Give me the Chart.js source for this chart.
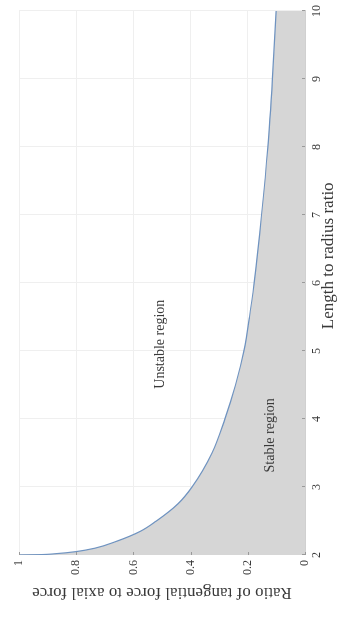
<!DOCTYPE html>
<html>
<head>
<meta charset="utf-8">
<script src="https://cdn.jsdelivr.net/npm/chart.js@4.4.1/dist/chart.umd.min.js"></script>
<style>
  html, body { margin: 0; padding: 0; background: #ffffff; overflow: hidden; }
  body { width: 342px; height: 617px; position: relative; }
  /* the figure is laid out landscape and turned a quarter turn counter-clockwise */
  #wrap {
    position: absolute; left: 0; top: 0;
    width: 617px; height: 342px;
    transform-origin: 0 0;
    transform: translateY(617px) rotate(-90deg);
  }
</style>
</head>
<body>
<div id="wrap"><canvas id="chart" width="617" height="342"></canvas></div>
<script>
// Stability boundary: force ratio at which a given length/radius ratio becomes unstable
const lengthRatio = [2, 2.005, 2.02, 2.05, 2.1, 2.2, 2.35, 2.5, 2.75, 3, 3.5, 4, 4.5, 5, 5.5, 6, 7, 8, 9, 10];
const forceRatio  = [1, 0.93, 0.87, 0.80, 0.735, 0.66, 0.575, 0.52, 0.445, 0.395, 0.325, 0.28, 0.243, 0.214, 0.194, 0.178, 0.152, 0.13, 0.114, 0.101];

const xTicks = [2, 3, 4, 5, 6, 7, 8, 9, 10];
const yTicks = [0, 0.2, 0.4, 0.6, 0.8, 1];
const yTickLabels = ['0', '0.2', '0.4', '0.6', '0.8', '1'];

const xTitle = 'Length to radius ratio';
const yTitle = 'Ratio of tangential force to axial force';

const regionNames = ['Unstable region', 'Stable region'];
const regionAt = [[5.1, 0.505], [3.76, 0.122]];

const FONT = '"Liberation Serif", "Times New Roman", serif';
const TEXT = '#3a3a3a';

const points = lengthRatio.map((x, i) => ({ x: x, y: forceRatio[i] }));

const labelsPlugin = {
  id: 'figureText',
  afterDatasetsDraw(chart) {
    const { ctx, chartArea, scales } = chart;
    ctx.save();
    ctx.fillStyle = TEXT;
    // small inward tick marks along the two axes
    ctx.strokeStyle = '#9a9a9a';
    ctx.lineWidth = 1;
    xTicks.forEach(v => {
      const px = Math.round(scales.x.getPixelForValue(v)) + 0.5;
      ctx.beginPath();
      ctx.moveTo(px, chartArea.bottom);
      ctx.lineTo(px, chartArea.bottom - 3);
      ctx.stroke();
    });
    yTicks.forEach(v => {
      const py = Math.round(scales.y.getPixelForValue(v)) + 0.5;
      ctx.beginPath();
      ctx.moveTo(chartArea.left, py);
      ctx.lineTo(chartArea.left + 3, py);
      ctx.stroke();
    });
    // region names
    ctx.font = '14px ' + FONT;
    ctx.textAlign = 'center';
    ctx.textBaseline = 'middle';
    regionNames.forEach((t, i) => {
      ctx.fillText(t, scales.x.getPixelForValue(regionAt[i][0]), scales.y.getPixelForValue(regionAt[i][1]));
    });
    // axis titles
    ctx.font = '17px ' + FONT;
    ctx.fillText(xTitle, scales.x.getPixelForValue(6.4), chartArea.bottom + 24);
    ctx.translate(chartArea.left - 37, (chartArea.top + chartArea.bottom) / 2);
    ctx.rotate(-Math.PI / 2);
    ctx.fillText(yTitle, 0, 0);
    ctx.restore();
  }
};

new Chart(document.getElementById('chart'), {
  type: 'line',
  data: {
    datasets: [{
      data: points,
      borderColor: '#6f93c0',
      borderWidth: 1.2,
      backgroundColor: '#d6d6d6',
      fill: 'origin',
      pointRadius: 0,
      cubicInterpolationMode: 'monotone'
    }]
  },
  options: {
    responsive: false,
    animation: false,
    events: [],
    layout: { padding: { top: 19, right: 10, left: 0, bottom: 0 } },
    plugins: { legend: { display: false }, tooltip: { enabled: false } },
    scales: {
      x: {
        type: 'linear',
        min: 2, max: 10,
        afterFit: s => { s.height = 37; },
        afterBuildTicks: s => { s.ticks = xTicks.map(v => ({ value: v })); },
        grid: { color: '#efefef', drawTicks: false },
        border: { color: '#d0d0d0' },
        ticks: {
          padding: 5,
          color: TEXT,
          font: { family: FONT, size: 12 },
          maxRotation: 0,
          callback: v => String(v)
        }
      },
      y: {
        type: 'linear',
        min: 0, max: 1,
        afterFit: s => { s.width = 62; },
        afterBuildTicks: s => { s.ticks = yTicks.map(v => ({ value: v })); },
        grid: { color: '#efefef', drawTicks: false },
        border: { color: '#d0d0d0' },
        ticks: {
          padding: 5,
          color: TEXT,
          font: { family: FONT, size: 12 },
          callback: v => yTickLabels[yTicks.indexOf(v)]
        }
      }
    }
  },
  plugins: [labelsPlugin]
});
</script>
</body>
</html>
